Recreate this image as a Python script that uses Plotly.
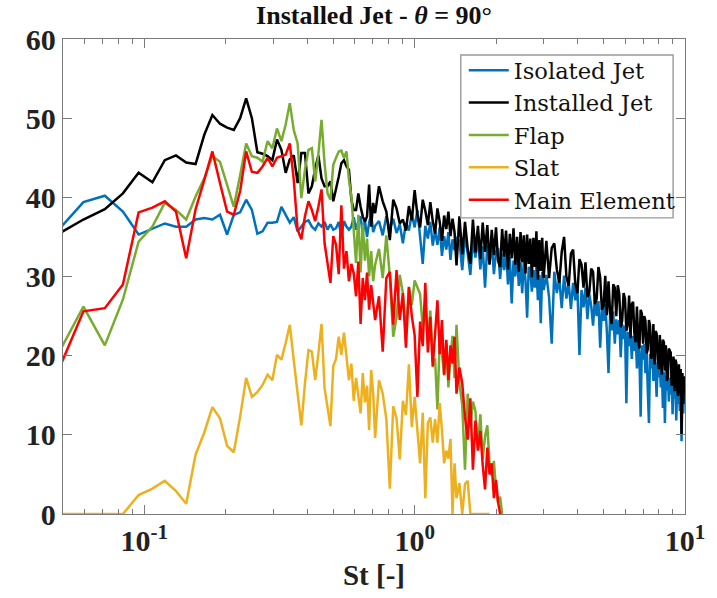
import plotly.graph_objects as go

# Frequency bins (multiples of the Strouhal bin width). Dense at low St, thinned at high St.
BIN = 0.0119
bins = (list(range(4, 61)) + list(range(62, 121, 2))
        + list(range(123, 253, 3)) + list(range(258, 841, 6)))
st = [round(BIN * k, 4) for k in bins]

isolated_jet = [
    35.7, 39.4, 40.2, 38.2, 35.3, 36.0, 36.7, 36.3, 36.3, 37.2,
    37.4, 37.2, 37.8, 35.3, 37.8, 38.1, 39.7, 38.4, 35.4, 35.7,
    36.8, 36.8, 36.9, 38.8, 37.8, 36.8, 37.5, 35.7, 36.3, 36.9,
    37.1, 36.3, 35.9, 36.7, 36.3, 36.9, 35.9, 36.6, 35.9, 36.1,
    36.9, 35.0, 37.0, 36.3, 35.9, 36.3, 37.5, 35.9, 36.9, 37.6,
    35.4, 37.1, 35.0, 36.8, 37.9, 35.6, 36.4,
    37.0, 35.2, 37.6, 36.0, 37.3, 35.5, 36.6, 34.2, 36.8, 35.8,
    37.9, 36.2, 38.4, 35.0, 31.6, 36.4, 34.8, 36.9, 33.9, 35.8,
    34.0, 36.2, 32.6, 35.1, 33.4, 35.6, 32.1, 34.7, 33.3, 35.0,
    34.5, 30.8, 35.2, 32.9, 30.2, 34.6, 32.4, 35.0, 30.9, 33.8,
    28.6, 34.0, 31.6, 34.4, 30.3, 33.1, 33.6, 29.7, 32.9, 30.8,
    33.4, 29.0, 32.5, 26.6, 32.0, 30.0, 32.9, 28.8, 31.8, 27.9,
    32.1, 29.4, 24.8, 31.2, 30.9, 28.1, 30.8, 28.6, 31.4, 27.0,
    30.2, 24.1, 30.6, 28.3,
    30.2, 27.4, 21.5, 30.6, 27.9, 29.8, 26.0, 30.1, 27.2, 29.3,
    25.9, 29.2, 27.0, 28.8, 20.1, 28.3, 26.1, 28.6, 24.6, 27.8,
    26.3, 23.8, 27.2, 25.0, 26.9, 21.0, 26.2, 24.4, 26.5, 23.0,
    17.8, 25.1, 23.2, 25.6, 21.5, 24.6, 22.7, 24.5, 19.8, 24.0,
    22.1, 23.8, 14.0, 23.0, 21.2, 23.3, 19.6, 22.5, 20.6, 22.6,
    18.4, 21.9, 20.0, 12.3, 21.3, 19.5, 21.5, 17.8, 20.6, 15.6,
    11.5, 20.2, 18.4, 20.4, 16.8, 19.7, 18.1, 14.8, 19.2, 17.3,
    18.8, 16.0, 18.3, 13.4, 18.0, 11.5, 17.5, 15.6, 18.1, 14.2,
    17.2, 15.1, 17.5, 12.6, 16.6, 14.6, 17.0, 11.8, 16.0, 13.9,
    16.2, 13.0, 15.5, 9.2, 15.0, 12.7, 15.6, 14.8,
]

installed_jet = [
    35.3, 37.2, 38.5, 40.5, 43.1, 41.9, 44.7, 45.3, 44.4, 44.2,
    47.9, 50.4, 49.3, 48.8, 48.5, 50.0, 52.5, 50.0, 45.7, 45.5,
    45.2, 44.7, 47.3, 46.0, 43.1, 44.8, 45.3, 41.8, 45.6, 45.6,
    40.5, 41.4, 43.6, 45.3, 42.4, 41.4, 41.4, 42.0, 39.5, 40.9,
    42.6, 44.3, 44.7, 43.9, 43.5, 39.7, 38.4, 38.4, 40.5, 38.8,
    37.6, 36.9, 37.6, 41.6, 36.3, 39.3, 38.0,
    41.4, 39.5, 38.2, 34.6, 39.7, 38.6, 36.7, 37.2, 35.8, 38.9,
    37.1, 40.9, 37.8, 36.2, 39.7, 38.3, 36.5, 39.4, 37.0, 35.4,
    38.6, 36.9, 34.5, 37.7, 36.0, 38.2, 35.1, 37.3, 35.6, 31.4,
    37.6, 32.8, 36.9, 33.5, 31.6, 37.2, 33.0, 36.4, 32.2, 36.8,
    33.1, 36.5, 31.5, 35.9, 32.7, 36.2, 32.0, 31.2, 36.0, 32.5,
    35.8, 30.9, 35.4, 32.3, 36.1, 31.5, 35.0, 30.6, 35.6, 31.8,
    35.2, 30.4, 35.3, 31.6, 34.8, 29.9, 34.9, 31.2, 35.7, 29.6,
    34.6, 30.7, 34.9, 29.8,
    34.5, 29.8, 33.6, 34.2, 30.9, 29.2, 33.1, 35.0, 30.0, 28.8,
    32.9, 33.4, 29.1, 27.9, 32.2, 31.5, 28.6, 31.8, 27.4, 28.0,
    31.0, 30.6, 26.5, 27.2, 31.2, 29.9, 25.8, 26.3, 30.1, 25.1,
    29.4, 25.5, 24.0, 29.0, 28.6, 25.0, 28.9, 27.8, 23.6, 24.4,
    27.9, 27.2, 23.1, 24.0, 27.6, 22.2, 26.5, 26.8, 22.8, 21.7,
    26.2, 22.0, 20.9, 25.8, 25.3, 21.5, 25.0, 24.4, 20.3, 20.8,
    24.5, 23.8, 19.6, 20.2, 24.0, 18.9, 23.1, 22.8, 19.5, 18.3,
    22.6, 18.7, 17.6, 22.0, 21.7, 18.1, 21.3, 16.8, 17.3, 20.9,
    20.7, 20.4, 16.2, 16.8, 19.9, 15.5, 19.5, 19.1, 16.0, 14.9,
    18.9, 15.2, 18.3, 10.1, 17.8, 13.9, 17.4, 15.2,
]

flap = [
    20.0, 26.2, 21.3, 27.1, 34.4, 36.3, 39.3, 38.4, 37.2, 40.1,
    42.4, 45.2, 44.5, 41.4, 38.8, 42.8, 46.8, 45.2, 45.0, 44.5,
    47.1, 46.2, 48.7, 47.1, 49.2, 51.9, 48.5, 46.8, 39.9, 43.5,
    46.0, 46.2, 42.0, 45.5, 49.8, 44.3, 40.5, 39.7, 44.1, 45.0,
    45.8, 45.9, 45.0, 45.8, 42.2, 40.1, 35.5, 31.7, 37.8, 30.5,
    36.6, 32.0, 34.8, 30.0, 33.2, 29.4, 31.5,
    33.5, 29.8, 35.2, 30.0, 22.4, 24.8, 30.2, 27.9, 22.8, 28.6,
    26.4, 29.5, 28.5, 27.8, 23.6, 26.9, 21.5, 25.7, 19.4, 19.5,
    13.2, 22.1, 20.3, 17.5, 21.6, 16.0, 19.8, 22.5, 17.2, 23.9,
    16.5, 13.8, 5.6, 15.2, 11.0, 14.2, 13.0, 8.3, 12.6, 6.9,
    9.8, 11.2, 6.4, 4.8, 6.7, 3.0, 1.4, 2.2, 0.0,
]

slat = [
    0.0, 0.0, 0.0, 0.0, 2.4, 3.2, 4.2, 2.9, 1.3, 7.5,
    10.3, 13.5, 12.1, 8.6, 7.8, 12.3, 17.2, 14.8, 15.4, 16.3,
    17.6, 16.9, 20.1, 19.5, 21.6, 23.9, 19.4, 15.3, 11.2, 16.5,
    20.7, 20.5, 16.9, 20.3, 24.0, 15.9, 13.5, 11.1, 18.7, 19.6,
    22.4, 20.1, 22.9, 19.8, 16.9, 19.0, 14.3, 17.2, 15.0, 12.7,
    17.8, 14.1, 16.2, 10.6, 18.2, 15.3, 9.6,
    16.9, 15.2, 12.0, 3.2, 13.6, 12.1, 6.9, 14.3, 12.5, 18.9,
    11.0, 14.8, 10.3, 6.4, 12.8, 2.0, 11.5, 12.2, 9.0, 12.0,
    9.0, 14.0, 10.6, 6.4, 8.0, 7.0, 9.5, 0.0, 6.4, 2.0,
    3.9, 0.0, 3.8, 4.2, 0.0, 0.0, 0.0, 0.0, 0.0, 0.0,
    0.0, 0.0, 0.0,
]

main_element = [
    17.8, 25.6, 26.0, 29.0, 38.1, 38.7, 39.5, 38.2, 32.3, 38.5,
    42.2, 45.8, 41.8, 38.2, 37.8, 40.8, 45.8, 43.2, 43.1, 43.9,
    45.0, 43.9, 45.0, 45.2, 45.4, 46.8, 42.2, 35.9, 34.7, 37.6,
    39.5, 38.4, 37.0, 38.8, 41.0, 34.2, 31.7, 29.2, 35.1, 34.0,
    30.3, 39.0, 31.0, 33.2, 29.4, 31.6, 30.4, 27.5, 31.9, 24.0,
    29.8, 27.0, 30.5, 25.8, 28.9, 26.3, 24.5,
    27.5, 20.5, 29.8, 30.6, 23.9, 30.8, 24.5, 27.9, 21.0, 28.7,
    25.0, 22.6, 14.8, 24.3, 21.2, 29.2, 20.4, 24.9, 18.6, 23.5,
    27.0, 20.2, 24.5, 17.6, 22.0, 16.9, 21.3, 19.0, 22.4, 15.2,
    18.5, 16.5, 12.3, 9.4, 14.6, 5.6, 11.8, 8.0, 10.5, 6.2,
    3.1, 8.4, 5.0, 6.4, 2.0, 4.3, 1.5, 0.0,
]

series = [
    ("Isolated Jet", isolated_jet, "#0072BD"),
    ("Installed Jet", installed_jet, "#000000"),
    ("Flap", flap, "#77AC30"),
    ("Slat", slat, "#EDB120"),
    ("Main Element", main_element, "#FF0000"),
]

fig = go.Figure()
for name, values, color in series:
    fig.add_trace(go.Scatter(
        x=st[:len(values)], y=values, mode="lines", name=name,
        line=dict(color=color, width=2.5),
    ))

AXIS_COLOR = "#7a7a7a"
TICK_FONT = dict(family="Liberation Serif", size=30, color="#222222", weight="bold")
minor_st = [0.06, 0.07, 0.08, 0.09, 0.2, 0.3, 0.4, 0.5, 0.6, 0.7, 0.8, 0.9,
            2, 3, 4, 5, 6, 7, 8, 9]

# Plot-area geometry in pixels, used to place the legend frame
PLOT_L, PLOT_R, PLOT_T, PLOT_B = 63, 690, 39, 514.3
def px_x(px):
    return (px - PLOT_L) / (PLOT_R - PLOT_L)
def px_y(py):
    return (PLOT_B - py) / (PLOT_B - PLOT_T)

fig.update_layout(
    width=717, height=598,
    margin=dict(l=63, r=27, t=39, b=84),
    paper_bgcolor="white", plot_bgcolor="white",
    title=dict(
        text="<b>Installed Jet - <i>θ</i> = 90°</b>",
        x=0.5, xref="paper", xanchor="center",
        y=1 - 15 / 598, yref="container", yanchor="middle",
        font=dict(family="Liberation Serif", size=26, color="#111111"),
    ),
    xaxis=dict(
        type="log", range=[-1.30103, 1.0],
        tickmode="array", tickvals=[0.1, 1, 10],
        ticktext=["10<sup>-1</sup>", "10<sup>0</sup>", "10<sup>1</sup>"],
        ticks="inside", ticklen=9, tickwidth=1.3, tickcolor=AXIS_COLOR,
        minor=dict(tickmode="array", tickvals=minor_st, ticks="inside",
                   ticklen=5, tickwidth=1.1, tickcolor=AXIS_COLOR, showgrid=False),
        showline=True, linecolor=AXIS_COLOR, linewidth=1.3, mirror="allticks",
        showgrid=False, zeroline=False,
        tickfont=TICK_FONT,
        title=dict(text="<b>St [-]</b>", standoff=8,
                   font=dict(family="Liberation Serif", size=29, color="#222222")),
    ),
    yaxis=dict(
        range=[0, 60], tickmode="linear", tick0=0, dtick=10,
        ticks="inside", ticklen=9, tickwidth=1.3, tickcolor=AXIS_COLOR,
        showline=True, linecolor=AXIS_COLOR, linewidth=1.3, mirror="allticks",
        showgrid=False, zeroline=False,
        tickfont=TICK_FONT,
    ),
    legend=dict(
        x=px_x(467), y=px_y(49), xanchor="left", yanchor="top",
        bgcolor="rgba(0,0,0,0)", borderwidth=0,
        font=dict(family="DejaVu Serif", size=22.6, color="#111111"),
        tracegroupgap=0, itemwidth=40,
    ),
    shapes=[dict(
        type="rect", xref="paper", yref="paper", layer="above",
        x0=px_x(464), x1=px_x(678), y0=px_y(218), y1=px_y(55),
        line=dict(color="#9a9a9a", width=1.4), fillcolor="white",
    )],
    showlegend=True,
)

fig.write_html("out.html")
